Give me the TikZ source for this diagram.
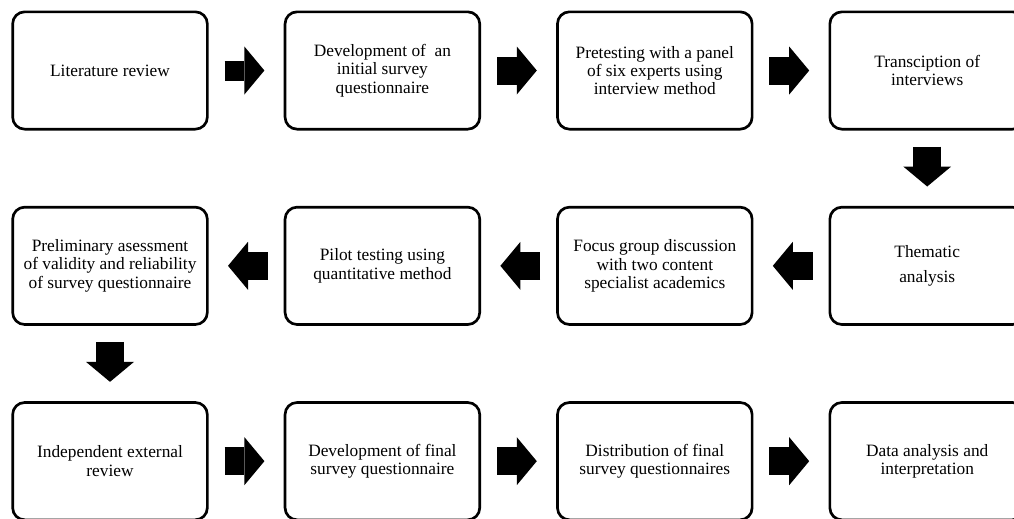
\documentclass[tikz,border=0pt]{standalone}
\usepackage{fontspec}
\setmainfont{Liberation Serif}
\usetikzlibrary{arrows.meta, positioning}

\begin{document}
\begin{tikzpicture}[x=0.75pt, y=-0.75pt, font=\fontsize{13}{13.8}\selectfont]

    \tikzstyle{block} = [draw, rectangle, rounded corners=9pt, line width=2pt,
                         minimum width=146pt, minimum height=88pt, align=center]
    \tikzstyle{bigarrow} = [line width=21pt, shorten <=12pt, shorten >=14.5pt,
                            -{Triangle[length=15pt, width=36pt, line width=0pt]}]

    \clip (0,0) rectangle (1014,518);

    % First row
    \node [block] at (110,70.5) (lit) {Literature review};
    \node [block, right=56.3pt of lit] (dev) {Development of \ an\\initial survey\\questionnaire};
    \node [block, right=56.3pt of dev] (pre) {Pretesting with a panel\\of six experts using\\interview method};
    \node [block, right=56.3pt of pre] (trans) {Transciption of\\interviews};

    % Second row
    \node [block, below=56.5pt of trans] (them) {Thematic\\[5pt]analysis};
    \node [block, left=56.3pt of them] (focus) {Focus group discussion\\with two content\\specialist academics};
    \node [block, left=56.3pt of focus] (pilot) {Pilot testing using\\quantitative method};
    \node [block, left=56.3pt of pilot] (prelim) {Preliminary asessment\\of validity and reliability\\of survey questionnaire};

    % Third row
    \node [block, below=56.5pt of prelim] (ext) {Independent external\\review};
    \node [block, right=56.3pt of ext] (final) {Development of final\\survey questionnaire};
    \node [block, right=56.3pt of final] (dist) {Distribution of final\\survey questionnaires};
    \node [block, right=56.3pt of dist] (data) {Data analysis and\\interpretation};

    % Connect the steps with block arrows
    \draw[bigarrow, line width=15pt] (lit) -- (dev);
    \draw[bigarrow] (dev) -- (pre);
    \draw[bigarrow] (pre) -- (trans);
    \draw[bigarrow] (trans) -- (them);
    \draw[bigarrow] (them) -- (focus);
    \draw[bigarrow] (focus) -- (pilot);
    \draw[bigarrow] (pilot) -- (prelim);
    \draw[bigarrow] (prelim) -- (ext);
    \draw[bigarrow] (ext) -- (final);
    \draw[bigarrow] (final) -- (dist);
    \draw[bigarrow] (dist) -- (data);

\end{tikzpicture}
\end{document}
